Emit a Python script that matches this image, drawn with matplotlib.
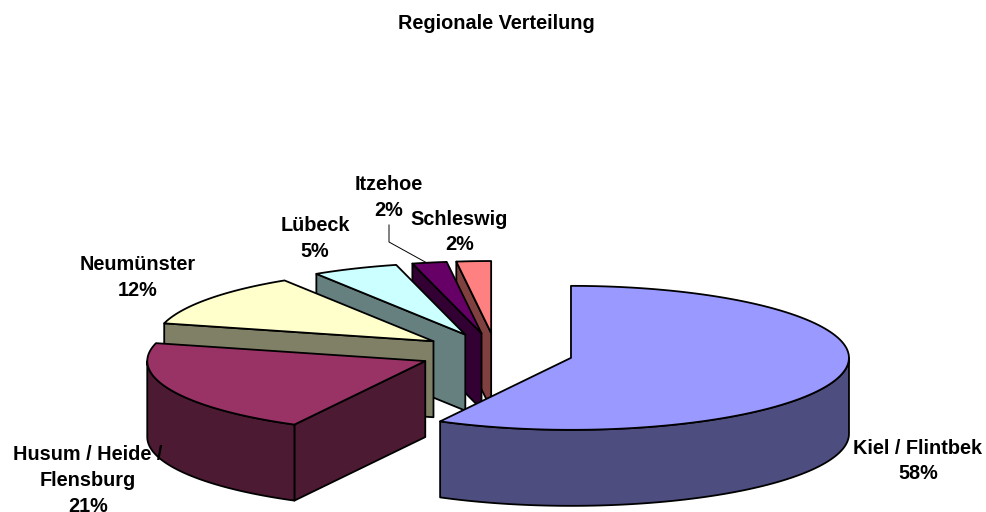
import numpy as np
import matplotlib
matplotlib.use('Agg')
import matplotlib.pyplot as plt
from matplotlib.patches import Polygon

plt.rcParams['font.family'] = ['Liberation Sans', 'DejaVu Sans']

# data (estimated shares, labels show them rounded)
labels = ['Kiel / Flintbek', 'Husum / Heide /\nFlensburg', 'Neumünster', 'Lübeck', 'Itzehoe', 'Schleswig']
values = [57.8, 21.2, 12, 5, 2, 2]
top_colors = ['#9999FF', '#993366', '#FFFFCC', '#CCFFFF', '#660066', '#FF8080']
side_colors = ['#4D4D80', '#4D1A33', '#808066', '#668080', '#330033', '#804040']
label_pos = [(918, 461), (88, 480.5), (137.5, 277.5), (315, 238.5), (389, 197.5), (459.5, 232)]

# pie geometry in pixels
cx, cy = 496, 353
a, b = 278, 72
depth = 76
explode = 0.278


def rim(ax0, ay0, t):
    # t in degrees, clockwise from 12 o'clock
    r = np.radians(t)
    return ax0 + a * np.sin(r), ay0 - b * np.cos(r)


fig = plt.figure(figsize=(9.86, 5.12), dpi=100)
ax = fig.add_axes([0, 0, 1, 1])
ax.set_xlim(0, 986)
ax.set_ylim(512, 0)
ax.axis('off')

fracs = np.array(values) / sum(values) * 360
starts = np.concatenate([[0], np.cumsum(fracs)[:-1]])

# back slices first, Kiel last
for i in reversed(range(len(values))):
    t0 = starts[i]
    t1 = t0 + fracs[i]
    mid = np.radians((t0 + t1) / 2)
    ax0 = cx + explode * a * np.sin(mid)
    ay0 = cy - explode * b * np.cos(mid)
    lw = 1.3

    # cut face at the start of the slice
    if 180 < t0 < 360:
        x, y = rim(ax0, ay0, t0)
        ax.add_patch(Polygon([(ax0, ay0), (x, y), (x, y + depth), (ax0, ay0 + depth)],
                             closed=True, fc=side_colors[i], ec='black', lw=lw, joinstyle='round'))

    # cut face at the end of the slice
    if 0 < t1 < 180:
        x, y = rim(ax0, ay0, t1)
        ax.add_patch(Polygon([(ax0, ay0), (x, y), (x, y + depth), (ax0, ay0 + depth)],
                             closed=True, fc=side_colors[i], ec='black', lw=lw, joinstyle='round'))

    # outer wall, only the front half of the ellipse shows
    w0, w1 = max(t0, 90), min(t1, 270)
    if w1 > w0:
        ts = np.linspace(w0, w1, 80)
        xs, ys = rim(ax0, ay0, ts)
        pts = list(zip(xs, ys)) + list(zip(xs[::-1], ys[::-1] + depth))
        ax.add_patch(Polygon(pts, closed=True, fc=side_colors[i], ec='black', lw=lw, joinstyle='round'))

    # top
    ts = np.linspace(t0, t1, 120)
    xs, ys = rim(ax0, ay0, ts)
    pts = [(ax0, ay0)] + list(zip(xs, ys))
    ax.add_patch(Polygon(pts, closed=True, fc=top_colors[i], ec='black', lw=lw, joinstyle='round'))

# leader line for Itzehoe
ax.plot([389, 389, 427], [225, 242, 263], color='black', lw=0.7, solid_joinstyle='miter')

for lab, val, pos in zip(labels, values, label_pos):
    ax.text(pos[0], pos[1], f'{lab}\n{val:.0f}%', ha='center', va='center', fontsize=14.3,
            fontweight='bold', color='black', linespacing=1.45)

ax.text(496, 23.5, 'Regionale Verteilung', ha='center', va='center', fontsize=14.3,
        fontweight='bold', color='black')

fig.savefig('out.png', dpi=100, facecolor='white')
